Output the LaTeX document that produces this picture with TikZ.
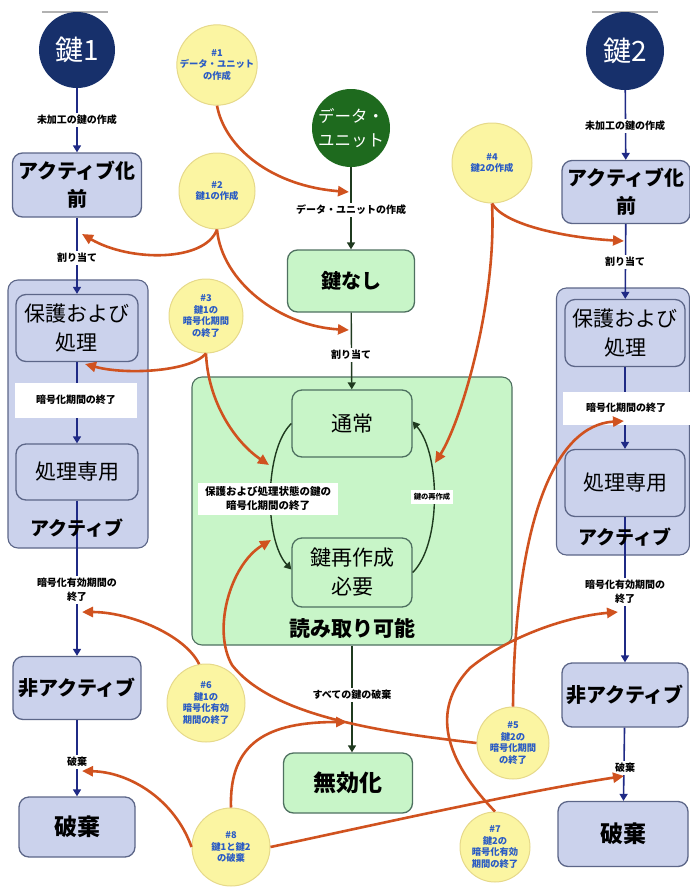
\documentclass[tikz,border=0pt]{standalone}
\usepackage{fontspec}
\setmainfont{Noto Sans CJK JP}
\usetikzlibrary{arrows.meta}
\definecolor{navy}{HTML}{17306B}
\definecolor{navyln}{HTML}{1F2A85}
\definecolor{lav}{HTML}{CBD2EC}
\definecolor{lavdraw}{HTML}{5C6688}
\definecolor{dkgreen}{HTML}{1E6A1E}
\definecolor{lgreen}{HTML}{C8F5C8}
\definecolor{grndraw}{HTML}{4E7060}
\definecolor{grnln}{HTML}{1F3A1F}
\definecolor{ylw}{HTML}{FBF5A2}
\definecolor{ylwdraw}{HTML}{E6D98A}
\definecolor{orng}{HTML}{D0521F}
\definecolor{bluetxt}{HTML}{2A5BC4}
\tikzset{
 lavcont/.style={rectangle, rounded corners=10pt, fill=lav, draw=lavdraw, line width=1.1pt},
 grncont/.style={rectangle, rounded corners=10pt, fill=lgreen, draw=grndraw, line width=1.1pt},
 lavbox/.style={rectangle, rounded corners=10pt, fill=lav, draw=lavdraw, line width=1.3pt, align=center, inner sep=0pt, font=\fontsize{20}{28}\selectfont\bfseries},
 lavboxr/.style={lavbox, font=\fontsize{21}{29}\selectfont},
 grnbox/.style={rectangle, rounded corners=10pt, fill=lgreen, draw=grndraw, line width=1.3pt, align=center, inner sep=0pt, font=\fontsize{21}{29}\selectfont},
 grnboxb/.style={grnbox, font=\fontsize{21}{29}\selectfont\bfseries},
 navycirc/.style={circle, fill=navy, inner sep=0pt, minimum size=76pt, text=white, font=\fontsize{28}{30}\selectfont},
 grncirc/.style={circle, fill=dkgreen, inner sep=0pt, minimum size=78pt, text=white, align=center, font=\fontsize{16.5}{24}\selectfont},
 ycirc/.style={circle, fill=ylw, draw=ylwdraw, line width=1pt, inner sep=0pt, minimum size=76pt, text=bluetxt, align=center, font=\fontsize{9.3}{11.5}\selectfont\bfseries},
 lbl/.style={fill=white, inner sep=2pt, align=center, font=\fontsize{10}{14}\selectfont\bfseries},
 bigtxt/.style={inner sep=0pt, font=\fontsize{19}{22}\selectfont\bfseries},
 navyarrow/.style={draw=navyln, line width=1.6pt, -{Triangle[length=7pt,width=8pt]}},
 grnarrow/.style={draw=grnln, line width=1.4pt, -{Triangle[length=7pt,width=8pt]}},
 orarrow/.style={draw=orng, line width=2.6pt, -{Triangle[length=11pt,width=10pt]}},
}
\begin{document}
\begin{tikzpicture}[x=1pt,y=-1pt]
\useasboundingbox (0,0) rectangle (690,887);
% containers
\node[lavcont, minimum width=140pt, minimum height=268pt] (act1) at (78,414) {};
\node[lavcont, minimum width=133pt, minimum height=267pt] (act2) at (623,421.5) {};
\node[grncont, minimum width=320pt, minimum height=268pt] (rd) at (352,511) {};

% key 1 column
\draw[gray!60, line width=1.5pt] (42,12) -- (108,12);
\node[navycirc] (k1) at (77,50) {鍵1};
\node[lavbox, minimum width=129pt, minimum height=64pt] (pre1) at (77,185) {アクティブ化\\前};
\node[lavboxr, minimum width=122pt, minimum height=67pt] (pp1) at (77,328) {保護および\\処理};
\node[lavboxr, minimum width=122pt, minimum height=56pt] (po1) at (77,472) {処理専用};
\node[lavbox, minimum width=128pt, minimum height=63pt] (in1) at (77,688) {非アクティブ};
\node[lavbox, minimum width=116pt, minimum height=60pt, font=\fontsize{23}{28}\selectfont\bfseries] (de1) at (77,827) {破棄};

% key 2 column
\draw[gray!60, line width=1.5pt] (592,12) -- (658,12);
\node[navycirc, minimum size=78pt] (k2) at (625,51) {鍵2};
\node[lavbox, minimum width=128pt, minimum height=63pt] (pre2) at (626,192) {アクティブ化\\前};
\node[lavboxr, minimum width=120pt, minimum height=67pt] (pp2) at (625,333) {保護および\\処理};
\node[lavboxr, minimum width=120pt, minimum height=67pt] (po2) at (625,483) {処理専用};
\node[lavbox, minimum width=126pt, minimum height=64pt] (in2) at (625,695) {非アクティブ};
\node[lavbox, minimum width=130pt, minimum height=65pt, font=\fontsize{23}{28}\selectfont\bfseries] (de2) at (623,834) {破棄};

% centre column
\node[grncirc] (du) at (351,128) {データ・\\ユニット};
\node[grnboxb, minimum width=127pt, minimum height=62pt, font=\fontsize{20}{28}\selectfont\bfseries] (kn) at (351,281) {鍵なし};
\node[grnbox, minimum width=120pt, minimum height=67pt] (nm) at (352,423.5) {通常};
\node[grnbox, minimum width=120pt, minimum height=69pt] (rk) at (352,572.5) {鍵再作成\\必要};
\node[grnboxb, minimum width=129pt, minimum height=60pt, font=\fontsize{23}{28}\selectfont\bfseries] (inv) at (348,783) {無効化};
\node[bigtxt, font=\fontsize{21}{24}\selectfont\bfseries] (rdt) at (352,628) {読み取り可能};

% key 1 connectors
\draw[navyarrow] (k1) -- (pre1);
\draw[navyarrow] (pre1) -- (pp1);
\draw[navyarrow] (pp1) -- (po1);
\draw[navyarrow] (po1) -- (in1);
\draw[navyarrow] (in1) -- (de1);
% key 2 connectors
\draw[navyarrow] (k2) -- (pre2);
\draw[navyarrow] (pre2) -- (pp2);
\draw[navyarrow] (pp2) -- (po2);
\draw[navyarrow] (po2) -- (in2);
\draw[navyarrow] (in2) -- (de2);
% centre connectors
\draw[grnarrow] (du) -- (kn);
\draw[grnarrow] (kn) -- (nm);
\draw[grnarrow] (rd.south -| rd.center) -- (rd.south |- inv.north);
\draw[grnarrow] (nm.west) .. controls (264,450) and (264,540) .. ([yshift=3pt]rk.west);
\draw[grnarrow] (rk.east) .. controls (441,545) and (441,455) .. ([yshift=2pt]nm.east);

% texts on the lines
\node[bigtxt] (a1t) at (77,528) {アクティブ};
\node[bigtxt] (a2t) at (625,537) {アクティブ};
\node[lbl] (l1a) at (77,120) {未加工の鍵の作成};
\node[lbl] (l1b) at (77,258) {割り当て};
\node[lbl, minimum width=122pt, minimum height=35pt] (l1c) at (76,400) {暗号化期間の終了};
\node[lbl] (l1d) at (77,590) {暗号化有効期間の\\終了};
\node[lbl] (l1e) at (77,762) {破棄};
\node[lbl] (l2a) at (625,126) {未加工の鍵の作成};
\node[lbl] (l2b) at (625,262) {割り当て};
\node[lbl, minimum width=127pt, minimum height=33pt] (l2c) at (626,408) {暗号化期間の終了};
\node[lbl] (l2d) at (625,592) {暗号化有効期間の\\終了};
\node[lbl] (l2e) at (625,768) {破棄};
\node[lbl] (lc1) at (351,210) {データ・ユニットの作成};
\node[lbl] (lc2) at (351,355) {割り当て};
\node[lbl, minimum width=140pt, minimum height=32pt, font=\fontsize{10.5}{14}\selectfont\bfseries] (lc3) at (268,499) {保護および処理状態の鍵の\\暗号化期間の終了};
\node[lbl, inner sep=3pt, font=\fontsize{7.3}{9}\selectfont\bfseries] (lc4) at (432,497) {鍵の再作成};
\node[lbl] (lc5) at (352,695) {すべての鍵の破棄};

% yellow event circles
\node[ycirc] (c1) at (217,65) {\#1\\データ・ユニット\\の作成};
\node[ycirc] (c2) at (217,191) {\#2\\鍵1の作成};
\node[ycirc, minimum size=74pt] (c3) at (206,316) {\#3\\鍵1の\\暗号化期間\\の終了};
\node[ycirc, minimum size=80pt] (c4) at (492,163) {\#4\\鍵2の作成};
\node[ycirc, minimum size=72pt] (c5) at (513,743) {\#5\\鍵2の\\暗号化期間\\の終了};
\node[ycirc, minimum size=78pt] (c6) at (206,703) {\#6\\鍵1の\\暗号化有効\\期間の終了};
\node[ycirc, minimum size=70pt] (c7) at (495,847) {\#7\\鍵2の\\暗号化有効\\期間の終了};
\node[ycirc, minimum size=78pt] (c8) at (231,847) {\#8\\鍵1と鍵2\\の破棄};

% targets of the event arrows
\coordinate (t1) at (349,192);
\coordinate (t2a) at (82,234);
\coordinate (t2b) at (349,330);
\coordinate (t3a) at (85,364);
\coordinate (t3b) at (269,465);
\coordinate (t4a) at (624,241);
\coordinate (t4b) at (435,463);
\coordinate (t5a) at (624,421);
\coordinate (t5b) at (271,540);
\coordinate (t6) at (82,612);
\coordinate (t7) at (618,612);
\coordinate (t8a) at (82,771);
\coordinate (t8b) at (347,722);
\coordinate (t8c) at (624,776);
\coordinate (j5) at (232,665);
\coordinate (j7) at (470,668);

% event arrows
\draw[orarrow] (c1.south) .. controls (225,148) and (272,186) .. (t1);
\draw[orarrow] (c2.south) .. controls (205,262) and (130,262) .. (t2a);
\draw[orarrow] (c2.south) .. controls (222,282) and (280,326) .. (t2b);
\draw[orarrow] (c3.south) .. controls (190,372) and (125,375) .. (t3a);
\draw[orarrow] (c3.south) .. controls (208,402) and (235,442) .. (t3b);
\draw[orarrow] (c4.south) .. controls (505,226) and (570,238) .. (t4a);
\draw[orarrow] (c4.south) .. controls (497,300) and (462,420) .. (t4b);
\draw[orarrow] (c5.north) .. controls (515,520) and (555,425) .. (t5a);
\draw[orarrow] (c5.west) .. controls (380,732) and (272,716) .. (j5) .. controls (212,630) and (230,565) .. (t5b);
\draw[orarrow] (c6.100) .. controls (185,635) and (130,612) .. (t6);
\draw[orarrow] (c7.north) .. controls (445,760) and (430,710) .. (j7) .. controls (510,635) and (570,616) .. (t7);
\draw[orarrow] (c8.west) .. controls (175,800) and (130,772) .. (t8a);
\draw[orarrow] (c8.north) .. controls (229,742) and (268,722) .. (t8b);
\draw[orarrow] (c8.east) .. controls (360,828) and (520,792) .. (t8c);
\end{tikzpicture}
\end{document}
